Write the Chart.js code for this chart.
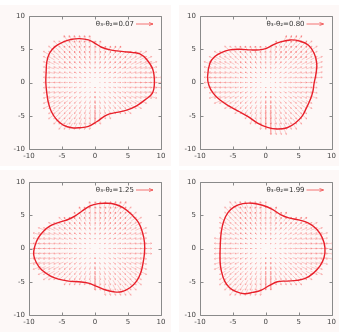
<!DOCTYPE html>
<html><head><meta charset="utf-8">
<script src="https://cdn.jsdelivr.net/npm/chart.js@4/dist/chart.umd.min.js"></script>
<style>
body{margin:0;background:#fff;width:339px;height:332px;position:relative;overflow:hidden}
.p{position:absolute;background:#fdf8f7}
canvas{display:block}
</style></head><body>
<div class="p" style="left:0;top:5px;width:171px;height:161px"><canvas id="c1" width="171" height="161"></canvas></div>
<div class="p" style="left:179px;top:5px;width:160px;height:161px"><canvas id="c2" width="160" height="161"></canvas></div>
<div class="p" style="left:0;top:170px;width:171px;height:162px"><canvas id="c3" width="171" height="162"></canvas></div>
<div class="p" style="left:179px;top:170px;width:160px;height:162px"><canvas id="c4" width="160" height="162"></canvas></div>
<script>
// ---- data ----
const phaseLabels = ['0.07', '0.80', '1.25', '1.99'];
const axisTicks = [-10, -5, 0, 5, 10];

const curve1X = [9.0, 8.75, 7.8, 6.8, 5.8, 4.3, 2.3, 1.0, 0.0, -1.0, -2.3, -3.5, -4.8, -6.05, -6.9, -7.3, -7.4, -7.45, -7.3, -7.05, -6.6, -5.8, -4.8, -3.5, -2.3, -1.0, 0.25, 1.75, 3.3, 4.8, 6.3, 7.6, 8.7];
const curve1Y = [0.0, 2.0, 3.5, 4.3, 4.5, 4.65, 4.9, 5.3, 5.9, 6.4, 6.6, 6.5, 6.1, 5.4, 4.4, 3.1, 1.6, 0.0, -1.6, -3.1, -4.4, -5.6, -6.4, -6.8, -6.8, -6.6, -5.9, -4.9, -4.5, -4.15, -3.5, -2.6, -1.6];

const curve2X = [7.65, 7.75, 7.35, 6.5, 5.25, 3.75, 2.25, 1.0, 0.0, -1.0, -2.25, -4.0, -5.5, -6.75, -7.75, -8.5, -8.85, -8.65, -8.0, -7.0, -5.5, -4.0, -2.75, -1.25, 0.25, 1.75, 3.25, 4.5, 5.5, 6.15, 6.75, 7.15, 7.35];
const curve2Y = [1.4, 2.9, 4.4, 5.6, 6.2, 6.4, 6.1, 5.6, 5.1, 4.9, 4.9, 5.0, 4.9, 4.5, 3.9, 2.9, 0.9, -0.4, -1.6, -2.6, -3.6, -4.4, -5.1, -6.1, -6.75, -7.0, -6.8, -6.1, -5.1, -3.9, -2.6, -1.4, -0.1];

const curve3X = [7.5, 7.2, 6.6, 5.55, 4.3, 3.0, 1.75, 0.5, -0.75, -2.0, -3.0, -4.0, -5.55, -6.8, -7.8, -8.6, -9.1, -9.3, -8.9, -8.1, -6.8, -5.55, -4.0, -2.5, -1.0, 0.25, 1.5, 2.8, 4.0, 5.3, 6.3, 6.95, 7.3, 7.5];
const curve3Y = [0.9, 2.4, 3.9, 5.1, 6.1, 6.65, 6.8, 6.75, 6.4, 5.6, 4.9, 4.4, 3.9, 3.4, 2.6, 1.6, 0.4, -0.9, -2.1, -3.2, -4.1, -4.6, -4.9, -5.0, -5.2, -5.7, -6.2, -6.5, -6.5, -5.9, -4.9, -3.6, -2.1, -0.6];

const curve4X = [9.0, 8.6, 7.75, 6.5, 5.0, 3.5, 2.25, 1.0, -0.5, -2.0, -3.5, -4.75, -5.75, -6.4, -6.75, -6.9, -6.95, -6.75, -6.25, -5.5, -4.5, -3.25, -2.0, -0.75, 0.5, 1.75, 3.25, 4.75, 6.0, 7.25, 8.25, 8.85];
const curve4Y = [0.1, 1.6, 2.9, 3.8, 4.3, 4.6, 5.1, 5.9, 6.5, 6.8, 6.75, 6.3, 5.4, 4.1, 2.6, 0.9, -1.9, -3.4, -4.9, -5.9, -6.5, -6.8, -6.6, -6.3, -5.6, -5.0, -4.9, -4.8, -4.5, -3.7, -2.6, -1.4];

const gridStep = 0.68;      // spacing of the arrow grid (data units)
const arrowScale = 0.15;    // arrow length relative to distance from origin

// ---- helpers ----
function inside(px, py, xs, ys) {
  let c = false;
  for (let i = 0, j = xs.length - 1; i < xs.length; j = i++) {
    if (((ys[i] > py) !== (ys[j] > py)) &&
        (px < (xs[j] - xs[i]) * (py - ys[i]) / (ys[j] - ys[i]) + xs[i])) c = !c;
  }
  return c;
}
function arrowData(xs, ys) {
  const out = [];
  const n = Math.floor(10 / gridStep);
  for (let i = -n; i <= n; i++) {
    for (let j = -n; j <= n; j++) {
      const x = i * gridStep, y = j * gridStep;
      if (!inside(x, y, xs, ys)) continue;
      const dx = x * arrowScale, dy = y * arrowScale;
      const len = Math.hypot(dx, dy);
      if (len < 1e-6) continue;
      const hx = x + dx, hy = y + dy;
      out.push({x: x, y: y}, {x: hx, y: hy}, {x: null, y: null});
      const hl = Math.min(0.25, 0.35 * len), ang = 0.5;
      const ux = dx / len, uy = dy / len;
      for (const s of [1, -1]) {
        const ca = Math.cos(s * ang), sa = Math.sin(s * ang);
        const rx = -(ux * ca - uy * sa), ry = -(ux * sa + uy * ca);
        out.push({x: hx, y: hy}, {x: hx + rx * hl, y: hy + ry * hl}, {x: null, y: null});
      }
    }
  }
  return out;
}
function curveData(xs, ys) {
  const pts = xs.map((x, i) => ({x: x, y: ys[i]}));
  const n = pts.length;
  return [pts[n - 1], ...pts, pts[0], pts[1]];
}

Chart.defaults.font.family = 'DejaVu Sans';
Chart.defaults.font.size = 7;
Chart.defaults.color = '#444';

const framePlugin = {
  id: 'frame',
  afterDraw(chart) {
    const {ctx, chartArea: a, scales: {x, y}} = chart;
    const L = Math.round(a.left) + 0.5, R = Math.round(a.right) + 0.5;
    const T = Math.round(a.top) + 0.5, B = Math.round(a.bottom) + 0.5;
    ctx.save();
    ctx.strokeStyle = '#8a8a8a';
    ctx.lineWidth = 1;
    ctx.beginPath();
    ctx.rect(L, T, R - L, B - T);
    x.ticks.forEach(t => {
      const p = Math.round(x.getPixelForValue(t.value)) + 0.5;
      ctx.moveTo(p, B); ctx.lineTo(p, B - 3);
      ctx.moveTo(p, T); ctx.lineTo(p, T + 3);
    });
    y.ticks.forEach(t => {
      const p = Math.round(y.getPixelForValue(t.value)) + 0.5;
      ctx.moveTo(L, p); ctx.lineTo(L + 3, p);
      ctx.moveTo(R, p); ctx.lineTo(R - 3, p);
    });
    ctx.stroke();
    // key
    const label = chart.options.plugins.frame.label;
    const ky = a.top + 8;
    ctx.fillStyle = '#333';
    ctx.font = '7px "DejaVu Sans"';
    ctx.textAlign = 'right';
    ctx.textBaseline = 'middle';
    ctx.fillText(label, a.right - 27, ky);
    ctx.strokeStyle = 'rgba(240,70,70,0.75)';
    ctx.beginPath();
    const x0 = a.right - 25, x1 = a.right - 8;
    ctx.moveTo(x0, ky); ctx.lineTo(x1, ky);
    ctx.moveTo(x1, ky); ctx.lineTo(x1 - 4, ky - 1.5);
    ctx.moveTo(x1, ky); ctx.lineTo(x1 - 4, ky + 1.5);
    ctx.stroke();
    ctx.restore();
  }
};

function makeChart(id, xs, ys, label, dims) {
  const cd = curveData(xs, ys);
  const last = cd.length - 1;
  new Chart(document.getElementById(id), {
    type: 'scatter',
    data: {
      datasets: [
        {
          data: cd, showLine: true, tension: 0.4, order: 0,
          borderColor: '#e8202a', borderWidth: 1.4, pointRadius: 0,
          segment: {
            borderColor: c => (c.p0DataIndex === 0 || c.p1DataIndex === last) ? 'rgba(0,0,0,0)' : undefined
          }
        },
        {
          data: arrowData(xs, ys), showLine: true, spanGaps: false, order: 1,
          borderColor: 'rgba(245,90,90,0.42)', borderWidth: 0.7, pointRadius: 0, tension: 0
        }
      ]
    },
    options: {
      responsive: false, animation: false, events: [],
      layout: {padding: {left: 0, top: dims.top, right: dims.right, bottom: 0}},
      plugins: {legend: {display: false}, tooltip: {enabled: false}, frame: {label: label}},
      scales: {
        x: {
          type: 'linear', min: -10, max: 10,
          afterBuildTicks: s => { s.ticks = axisTicks.map(v => ({value: v})); },
          afterFit: s => { s.height = dims.bottom; },
          grid: {display: false, drawTicks: false}, border: {display: false},
          ticks: {padding: 3, color: '#444'}
        },
        y: {
          type: 'linear', min: -10, max: 10,
          afterBuildTicks: s => { s.ticks = axisTicks.map(v => ({value: v})); },
          afterFit: s => { s.width = dims.left; },
          grid: {display: false, drawTicks: false}, border: {display: false},
          ticks: {padding: 4, color: '#444'}
        }
      }
    },
    plugins: [framePlugin]
  });
}

const lbl = v => 'θ\u2083-θ\u2082=' + v;
makeChart('c1', curve1X, curve1Y, lbl(phaseLabels[0]), {left: 29, top: 11, right: 10, bottom: 17});
makeChart('c2', curve2X, curve2Y, lbl(phaseLabels[1]), {left: 21, top: 11, right: 6, bottom: 17});
makeChart('c3', curve3X, curve3Y, lbl(phaseLabels[2]), {left: 29, top: 12, right: 10, bottom: 17});
makeChart('c4', curve4X, curve4Y, lbl(phaseLabels[3]), {left: 21, top: 12, right: 6, bottom: 17});
</script>
</body></html>
